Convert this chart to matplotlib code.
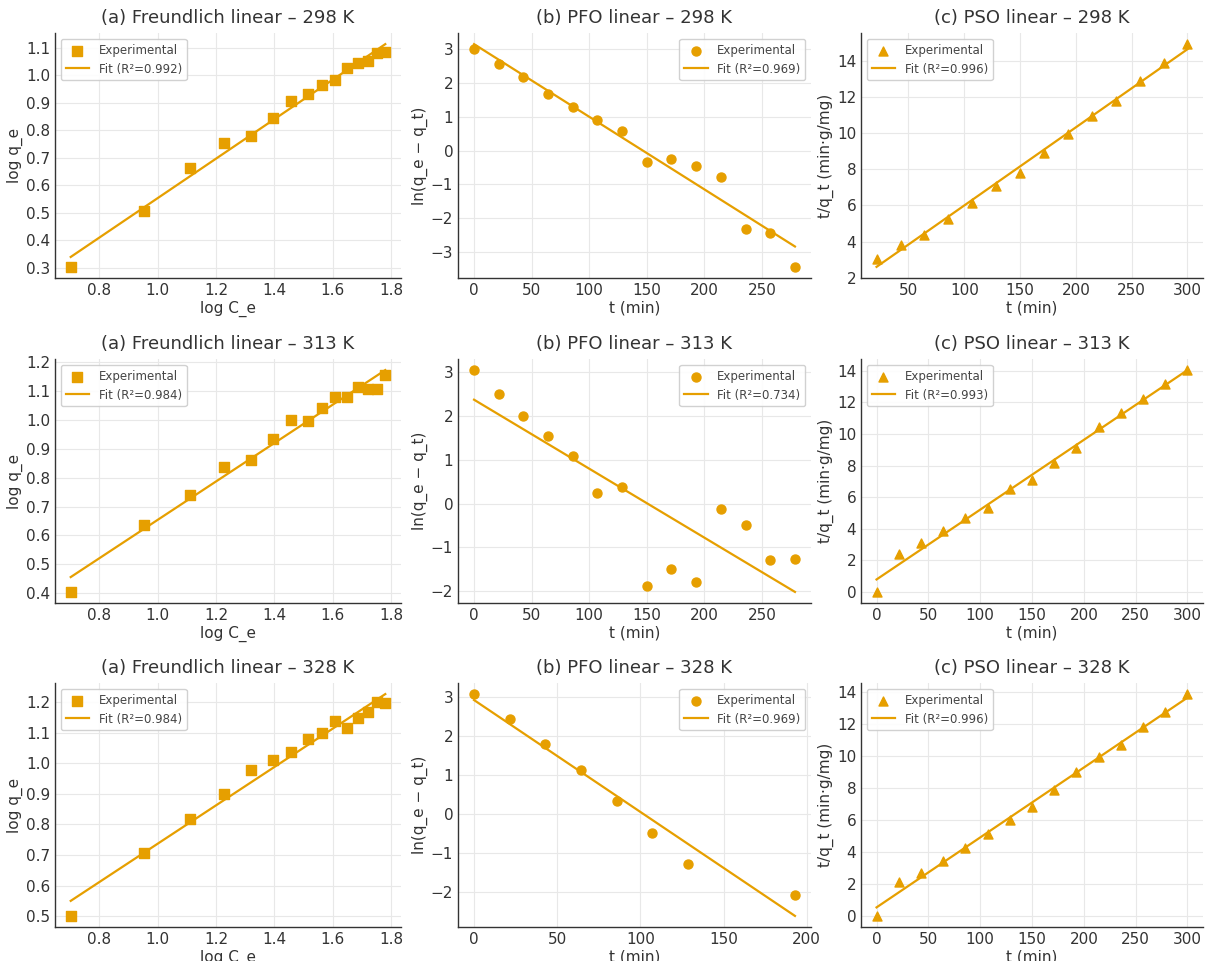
import numpy as np
import matplotlib
matplotlib.use("Agg")
import matplotlib.pyplot as plt
from matplotlib.ticker import MultipleLocator

# ---- data -------------------------------------------------------------
temps = ["298 K", "313 K", "328 K"]

log_ce = [0.702, 0.954, 1.112, 1.228, 1.320, 1.395, 1.458, 1.516,
          1.564, 1.607, 1.649, 1.686, 1.720, 1.752, 1.780]

log_qe_298 = [0.304, 0.508, 0.662, 0.753, 0.780, 0.843, 0.905, 0.932,
              0.966, 0.982, 1.026, 1.044, 1.052, 1.082, 1.084]
log_qe_313 = [0.405, 0.636, 0.739, 0.836, 0.861, 0.934, 0.998, 0.994,
              1.042, 1.078, 1.079, 1.113, 1.107, 1.105, 1.155]
log_qe_328 = [0.501, 0.706, 0.819, 0.899, 0.978, 1.011, 1.035, 1.080,
              1.100, 1.137, 1.114, 1.147, 1.167, 1.199, 1.197]

t_all = [0.0, 21.4, 42.9, 64.3, 85.7, 107.1, 128.6, 150.0,
         171.4, 192.9, 214.3, 235.7, 257.1, 278.6, 300.0]

t_pfo_298 = t_all[:14]
ln_pfo_298 = [3.00, 2.56, 2.17, 1.67, 1.30, 0.90, 0.59, -0.35,
              -0.26, -0.47, -0.77, -2.32, -2.43, -3.44]
t_pfo_313 = t_all[:14]
ln_pfo_313 = [3.04, 2.49, 2.00, 1.54, 1.09, 0.23, 0.38, -1.88,
              -1.49, -1.78, -0.13, -0.48, -1.28, -1.27]
t_pfo_328 = [0.0, 21.4, 42.9, 64.3, 85.7, 107.1, 128.6, 192.9]
ln_pfo_328 = [3.07, 2.44, 1.79, 1.13, 0.32, -0.48, -1.28, -2.09]

t_pso_298 = t_all[1:]
tq_pso_298 = [3.06, 3.82, 4.39, 5.25, 6.12, 7.05, 7.77, 8.88,
              9.94, 10.94, 11.81, 12.89, 13.91, 14.93]
t_pso_313 = t_all
tq_pso_313 = [0.00, 2.38, 3.10, 3.84, 4.66, 5.31, 6.49, 7.06,
              8.14, 9.09, 10.46, 11.34, 12.19, 13.20, 14.04]
t_pso_328 = t_all
tq_pso_328 = [0.00, 2.11, 2.70, 3.45, 4.22, 5.10, 6.02, 6.83,
              7.84, 8.99, 9.91, 10.66, 11.83, 12.77, 13.86]

r2_freundlich = ["0.992", "0.984", "0.984"]
r2_pfo = ["0.969", "0.734", "0.969"]
r2_pso = ["0.996", "0.993", "0.996"]

# ---- style ------------------------------------------------------------
ORANGE = "#E69F00"
TEXT = "#333333"
plt.rcParams.update({
    "font.family": "DejaVu Sans",
    "axes.edgecolor": TEXT,
    "axes.linewidth": 1.0,
    "axes.labelcolor": TEXT,
    "axes.titlecolor": TEXT,
    "xtick.color": TEXT,
    "ytick.color": TEXT,
    "xtick.major.size": 0,
    "ytick.major.size": 0,
    "xtick.major.pad": 3.5,
    "ytick.major.pad": 3.5,
    "xtick.labelsize": 11,
    "ytick.labelsize": 11,
    "axes.labelsize": 11,
    "axes.titlesize": 13,
})

W, H = 1205, 961
fig = plt.figure(figsize=(W / 100, H / 100), dpi=100)

col_x = [(55, 401), (458, 811), (861, 1203)]
row_y = [(33, 278), (359, 603), (683, 927)]


def make_ax(r, c):
    x0, x1 = col_x[c]
    y0, y1 = row_y[r]
    ax = fig.add_axes([x0 / W, 1 - y1 / H, (x1 - x0) / W, (y1 - y0) / H])
    ax.grid(True, color="#e8e8e8", linewidth=0.8)
    ax.set_axisbelow(True)
    for s in ("top", "right"):
        ax.spines[s].set_visible(False)
    return ax


def panel(ax, x, y, marker, r2, title, xlabel, ylabel, loc):
    x = np.asarray(x)
    y = np.asarray(y)
    ax.scatter(x, y, marker=marker, s=42, color=ORANGE, zorder=3,
               label="Experimental")
    slope, intercept = np.polyfit(x, y, 1)
    xs = np.array([x.min(), x.max()])
    ax.plot(xs, slope * xs + intercept, color=ORANGE, linewidth=1.6,
            label=f"Fit (R\u00b2={r2})", zorder=2)
    ax.set_title(title, pad=7)
    ax.set_xlabel(xlabel, labelpad=2)
    ax.set_ylabel(ylabel, labelpad=2)
    leg = ax.legend(loc=loc, fontsize=8.5, frameon=True, framealpha=0.9,
                    edgecolor="#cccccc", fancybox=True, borderpad=0.4,
                    handlelength=2.0, borderaxespad=0.5)
    for txt in leg.get_texts():
        txt.set_color("#444444")


freund = [log_qe_298, log_qe_313, log_qe_328]
pfo = [(t_pfo_298, ln_pfo_298), (t_pfo_313, ln_pfo_313), (t_pfo_328, ln_pfo_328)]
pso = [(t_pso_298, tq_pso_298), (t_pso_313, tq_pso_313), (t_pso_328, tq_pso_328)]

for r, temp in enumerate(temps):
    ax = make_ax(r, 0)
    panel(ax, log_ce, freund[r], "s", r2_freundlich[r],
          f"(a) Freundlich linear \u2013 {temp}", "log C_e", "log q_e",
          "upper left")
    ax.yaxis.set_major_locator(MultipleLocator(0.1))

    ax = make_ax(r, 1)
    panel(ax, pfo[r][0], pfo[r][1], "o", r2_pfo[r],
          f"(b) PFO linear \u2013 {temp}", "t (min)",
          "ln(q_e \u2212 q_t)", "upper right")
    ax.yaxis.set_major_locator(MultipleLocator(1))

    ax = make_ax(r, 2)
    panel(ax, pso[r][0], pso[r][1], "^", r2_pso[r],
          f"(c) PSO linear \u2013 {temp}", "t (min)",
          "t/q_t (min\u00b7g/mg)", "upper left")
    ax.yaxis.set_major_locator(MultipleLocator(2))

fig.savefig("out.png", dpi=100)
